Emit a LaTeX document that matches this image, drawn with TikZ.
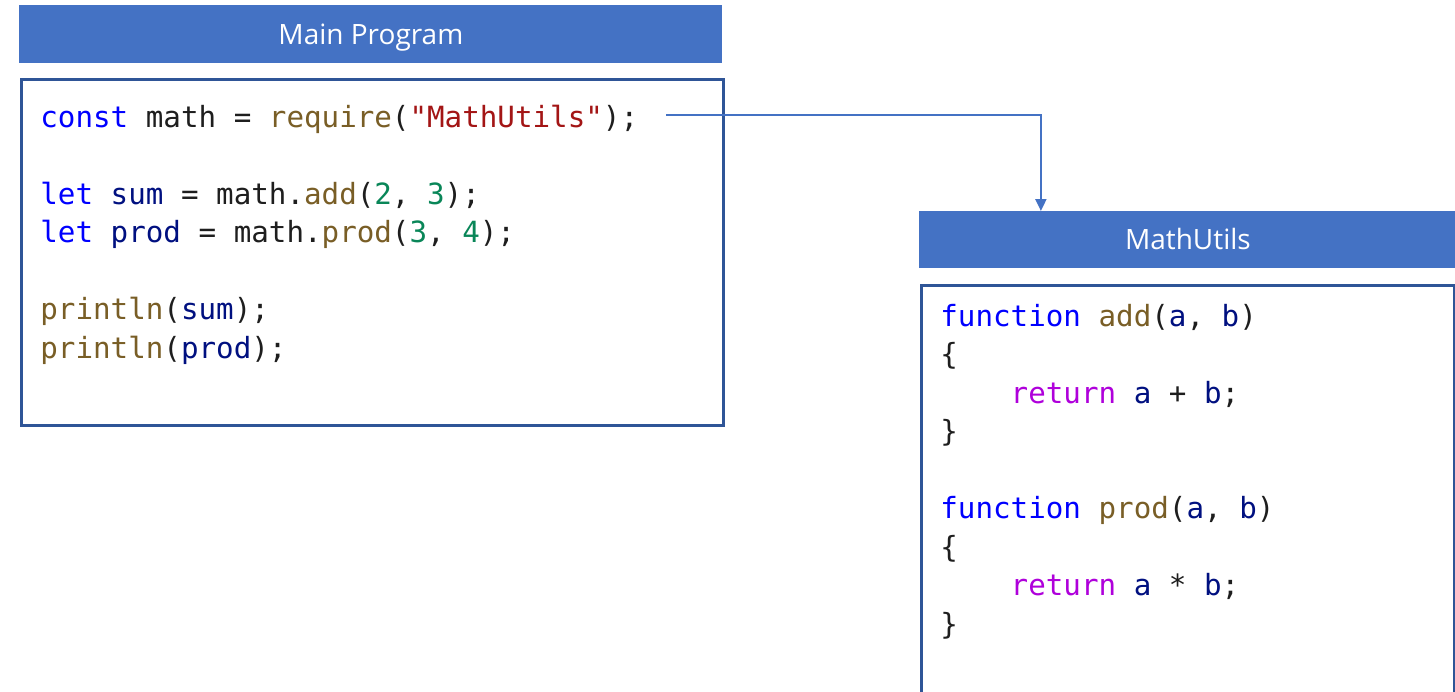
\documentclass[tikz,border=0pt]{standalone}
\usepackage{fontspec}
\setmonofont{DejaVu Sans Mono}
\newfontfamily\headfont{Open Sans}
\usetikzlibrary{positioning}
\usetikzlibrary{arrows.meta}

\definecolor{hdrblue}{HTML}{4472C4}
\definecolor{boxblue}{HTML}{2F5597}
\definecolor{kwblue}{HTML}{0000FF}
\definecolor{fnbrown}{HTML}{795E26}
\definecolor{strred}{HTML}{A31515}
\definecolor{numgreen}{HTML}{098658}
\definecolor{varnavy}{HTML}{001080}
\definecolor{retpurple}{HTML}{AF00DB}
\definecolor{plaintxt}{HTML}{1E1E1E}

% syntax colouring
\newcommand{\kw}[1]{\textcolor{kwblue}{#1}}
\newcommand{\fn}[1]{\textcolor{fnbrown}{#1}}
\newcommand{\str}[1]{\textcolor{strred}{#1}}
\newcommand{\num}[1]{\textcolor{numgreen}{#1}}
\newcommand{\var}[1]{\textcolor{varnavy}{#1}}
\newcommand{\ret}[1]{\textcolor{retpurple}{#1}}

\tikzset{
    header/.style = {fill=hdrblue, text=white, inner sep=0pt, anchor=north west, text height=10pt, text depth=0pt, font=\headfont\fontsize{14}{16}\selectfont},
    codebox/.style = {draw=boxblue, line width=1.3pt, fill=white, inner sep=0pt, anchor=north west},
    codeline/.style = {anchor=base west, inner sep=0pt, text=plaintxt, font=\ttfamily\fontsize{14.6}{17}\selectfont},
    link/.style = {-{Triangle[width=5.5pt,length=6pt]}, line width=1pt, hdrblue}
}

\begin{document}
\begin{tikzpicture}[x=0.5pt, y=-0.5pt]
  \useasboundingbox (0,0) rectangle (1455,691);

  % main program
  \node[header, minimum width=351.5pt, minimum height=29pt] (mainhead) at (19,5) {Main Program};
  \node[codebox, minimum width=351pt, minimum height=173pt] (mainbox) at (20,78) {};
  \node[codeline] (m1) at (40,127) {\kw{const} math = \fn{require}(\str{"MathUtils"});};
  \node[codeline] (m2) at (40,204) {\kw{let} \var{sum} = math.\fn{add}(\num{2}, \num{3});};
  \node[codeline] (m3) at (40,242.5) {\kw{let} \var{prod} = math.\fn{prod}(\num{3}, \num{4});};
  \node[codeline] (m4) at (40,319.5) {\fn{println}(\var{sum});};
  \node[codeline] (m5) at (40,358) {\fn{println}(\var{prod});};

  % module
  \node[header, minimum width=268.5pt, minimum height=28.5pt] (utilshead) at (919,211) {MathUtils};
  \node[codebox, minimum width=266.5pt, minimum height=250pt] (utilsbox) at (920,284) {};
  \node[codeline] (u1) at (940,326) {\kw{function} \fn{add}(\var{a}, \var{b})};
  \node[codeline] (u2) at (940,364.5) {\{};
  \node[codeline] (u3) at (940,403) {~~~~\ret{return} \var{a} + \var{b};};
  \node[codeline] (u4) at (940,441.5) {\}};
  \node[codeline] (u5) at (940,518.5) {\kw{function} \fn{prod}(\var{a}, \var{b})};
  \node[codeline] (u6) at (940,557) {\{};
  \node[codeline] (u7) at (940,595.5) {~~~~\ret{return} \var{a} * \var{b};};
  \node[codeline] (u8) at (940,634) {\}};

  % require -> module
  \coordinate (src) at (666,115);
  \draw[link] (src) -| ([xshift=-73.5pt]utilshead.north);
\end{tikzpicture}
\end{document}
